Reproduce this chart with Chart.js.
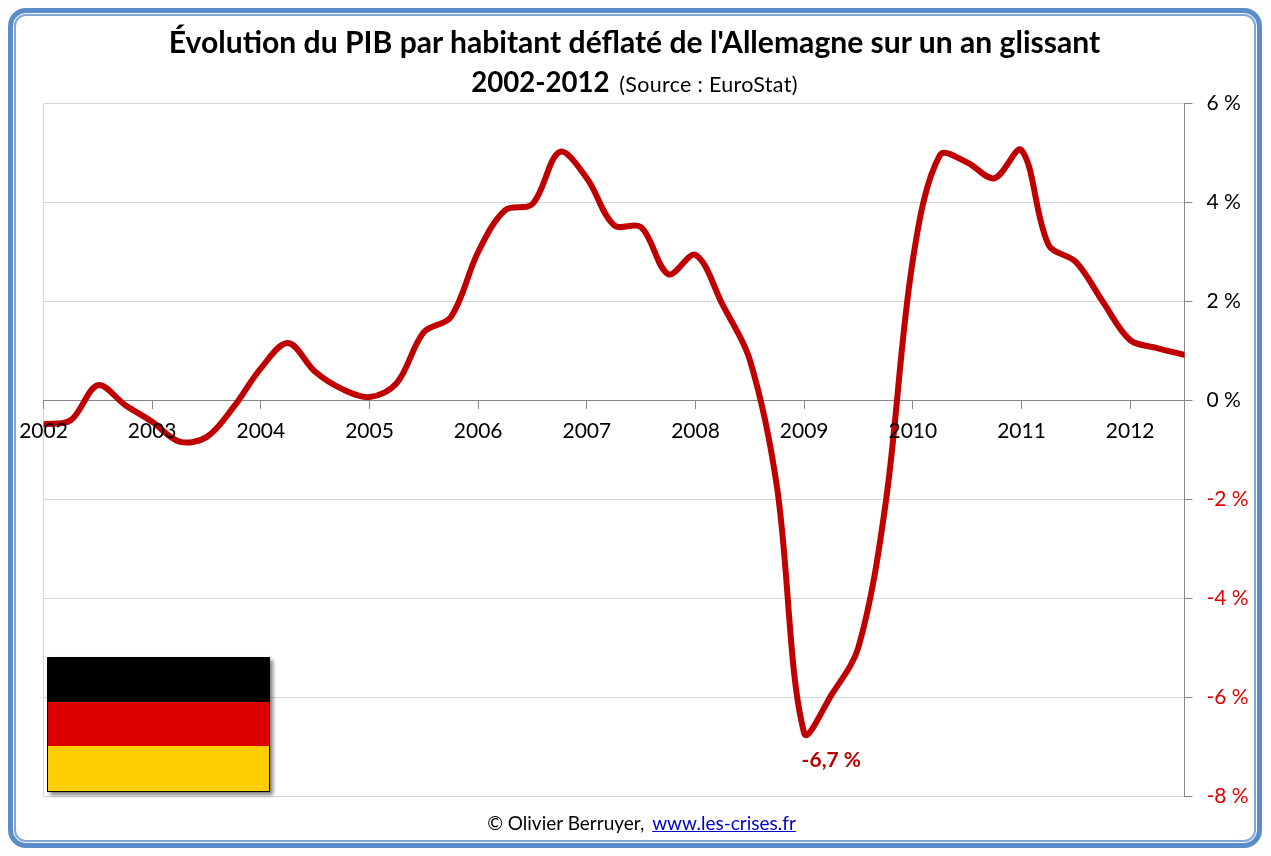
<!DOCTYPE html>
<html lang="fr">
<head>
<meta charset="utf-8">
<title>PIB par habitant Allemagne</title>
<script src="https://cdn.jsdelivr.net/npm/chart.js@4"></script>
<style>
  html, body { margin: 0; padding: 0; background: #fdfdfd; }
  body { width: 1271px; height: 856px; overflow: hidden; position: relative; font-family: Lato, sans-serif; }
  #frame { position: absolute; left: 8px; top: 8px; width: 1244px; height: 830px; border: 5px solid #5b8bcb; border-radius: 18px; background: #fff; box-shadow: inset 0 0 0 1px #fff, inset 0 0 0 3px #7ea6d8; }
  #chart { position: absolute; left: 0; top: 0; }
  .title { position: absolute; left: 0; width: 1269px; text-align: center; color: #000; white-space: nowrap; }
  #line1 { top: 21px; font-size: 30.1px; font-weight: 700; line-height: 40px; }
  #line2 { top: 62px; font-size: 27.6px; font-weight: 700; line-height: 40px; }
  #line2 span { font-size: 21.5px; font-weight: 400; margin-left: 3px; letter-spacing: 0.3px; }
  #footer { top: 810px; font-size: 19px; line-height: 26px; left: 7px; }
  #footer a { color: #0000c8; margin-left: 3px; }
  #flag { position: absolute; left: 47px; top: 657px; width: 221px; height: 134px; border: solid #000; border-width: 0 1px 1px 1px; box-shadow: 3px 3px 4px rgba(0,0,0,0.5); }
  #flag div { height: 44.67px; }
</style>
</head>
<body>
<div id="frame"></div>
<canvas id="chart" width="1271" height="856"></canvas>
<div class="title" id="line1">Évolution du PIB par habitant déflaté de l'Allemagne sur un an glissant</div>
<div class="title" id="line2">2002-2012 <span>(Source : EuroStat)</span></div>
<div class="title" id="footer">© Olivier Berruyer, <a href="#">www.les-crises.fr</a></div>
<div id="flag">
  <div style="background:#000"></div>
  <div style="background:#dd0000"></div>
  <div style="background:#ffce00"></div>
</div>
<script>
// trimestres
const quarters = [
  2002, 2002.25, 2002.5, 2002.75,
  2003, 2003.25, 2003.5, 2003.75,
  2004, 2004.25, 2004.5, 2004.75,
  2005, 2005.25, 2005.5, 2005.75,
  2006, 2006.25, 2006.5, 2006.75,
  2007, 2007.25, 2007.5, 2007.75,
  2008, 2008.25, 2008.5, 2008.75,
  2009, 2009.25, 2009.5, 2009.75,
  2010, 2010.25, 2010.5, 2010.75,
  2011, 2011.25, 2011.5, 2011.75,
  2012, 2012.25, 2012.5
];
const growth = [
  -0.48, -0.40, 0.31, -0.09,
  -0.43, -0.83, -0.74, -0.13,
  0.65, 1.16, 0.58, 0.23,
  0.07, 0.35, 1.38, 1.69,
  3.00, 3.85, 3.97, 5.02,
  4.49, 3.54, 3.50, 2.55,
  2.94, 1.93, 0.82, -1.75,
  -6.72, -5.95, -4.98, -2.07,
  2.84, 4.96, 4.81, 4.49,
  5.06, 3.14, 2.80, 1.99,
  1.22, 1.06, 0.92
];
const yearTicks = [2002, 2003, 2004, 2005, 2006, 2007, 2008, 2009, 2010, 2011, 2012, 2012.5];
const yearLabels = ["2002", "2003", "2004", "2005", "2006", "2007", "2008", "2009", "2010", "2011", "2012", ""];
const valueTicks = [6, 4, 2, 0, -2, -4, -6, -8];
const calloutText = "-6,7 %";
const calloutAt = [2009.25, -7.27];

const axisGrey = "#868686";
const gridGrey = "#d6d6d6";

const calloutPlugin = {
    id: "callout",
    afterDatasetsDraw(chart) {
        const ctx = chart.ctx;
        ctx.save();
        ctx.font = "700 21px Lato";
        ctx.fillStyle = "#b80000";
        ctx.textAlign = "center";
        ctx.textBaseline = "middle";
        ctx.fillText(calloutText, chart.scales.x.getPixelForValue(calloutAt[0]), chart.scales.y.getPixelForValue(calloutAt[1]));
        ctx.restore();
    }
};

new Chart(document.getElementById("chart").getContext("2d"), {
    type: "line",
    data: {
        datasets: [{
            data: quarters.map((q, i) => ({ x: q, y: growth[i] })),
            borderColor: "#c00000",
            borderWidth: 6,
            pointRadius: 0,
            tension: 0.34,
            borderCapStyle: "round",
            borderJoinStyle: "round"
        }]
    },
    options: {
        responsive: false,
        animation: false,
        layout: { padding: { left: 43.5, top: 103.5, right: 0, bottom: 59.5 } },
        plugins: { legend: { display: false }, tooltip: { enabled: false } },
        scales: {
            x: {
                type: "linear",
                position: { y: 0 },
                min: 2002,
                max: 2012.5,
                afterBuildTicks: axis => { axis.ticks = yearTicks.map(value => ({ value })); },
                border: { color: axisGrey, width: 1 },
                grid: {
                    color: c => (c.tick && c.tick.value === 2002 ? gridGrey : "transparent"),
                    tickColor: axisGrey,
                    tickLength: 8
                },
                ticks: {
                    z: 1,
                    color: "#000",
                    font: { family: "Lato", size: 21 },
                    padding: 10,
                    autoSkip: false,
                    maxRotation: 0,
                    callback: value => yearLabels[yearTicks.indexOf(value)]
                }
            },
            y: {
                position: "right",
                min: -8,
                max: 6,
                afterBuildTicks: axis => { axis.ticks = valueTicks.map(value => ({ value })); },
                afterFit: axis => { axis.width = 86.5; },
                border: { color: axisGrey, width: 1 },
                grid: {
                    color: c => (c.tick && c.tick.value === 0 ? "transparent" : gridGrey),
                    tickColor: axisGrey,
                    tickLength: 8
                },
                ticks: {
                    color: c => (c.tick.value < 0 ? "#e00000" : "#000"),
                    font: { family: "Lato", size: 21 },
                    padding: 14,
                    callback: value => value + " %"
                }
            }
        }
    },
    plugins: [calloutPlugin]
});
</script>
</body>
</html>
